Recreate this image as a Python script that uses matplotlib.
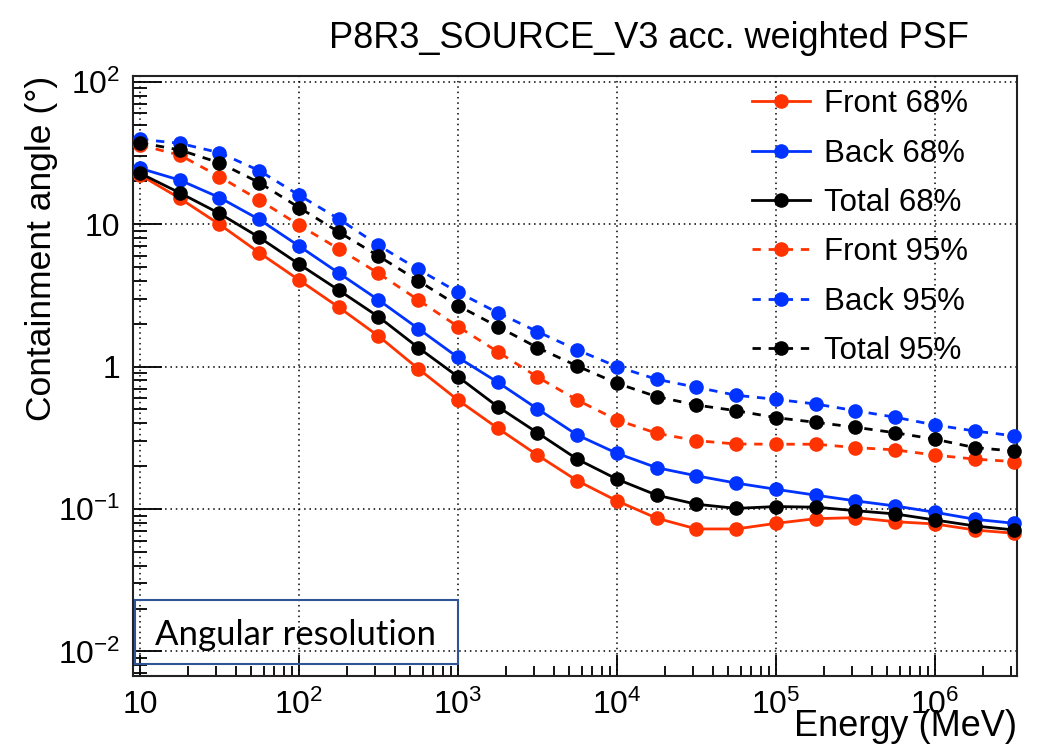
import matplotlib
matplotlib.use("Agg")
import matplotlib.pyplot as plt
from matplotlib.ticker import FixedLocator, FixedFormatter, LogLocator, NullFormatter
from matplotlib.patches import Rectangle

# ---------------- data ----------------
energy = [10, 17.8, 31.6, 56.2, 100, 178, 316, 562, 1000, 1780, 3160, 5620,
          1e4, 1.78e4, 3.16e4, 5.62e4, 1e5, 1.78e5, 3.16e5, 5.62e5, 1e6, 1.78e6, 3.16e6]

front68 = [22.2, 15.2, 9.98, 6.31, 4.06, 2.61, 1.64, 0.967, 0.582, 0.369, 0.239, 0.158,
           0.114, 0.0861, 0.0724, 0.0724, 0.0793, 0.0855, 0.0869, 0.0814, 0.0785, 0.0712, 0.0675]
back68 = [24.7, 20.4, 15.4, 10.8, 7.03, 4.54, 2.94, 1.85, 1.16, 0.776, 0.505, 0.331,
          0.246, 0.195, 0.171, 0.152, 0.1375, 0.125, 0.114, 0.105, 0.0948, 0.0847, 0.0793]
total68 = [22.8, 16.6, 11.9, 8.09, 5.25, 3.44, 2.24, 1.36, 0.849, 0.523, 0.343, 0.224,
           0.162, 0.125, 0.108, 0.101, 0.104, 0.103, 0.0973, 0.0923, 0.0837, 0.076, 0.0712]
front95 = [36.0, 30.6, 21.6, 14.8, 9.87, 6.70, 4.52, 2.94, 1.91, 1.27, 0.845, 0.582,
           0.422, 0.340, 0.302, 0.286, 0.285, 0.285, 0.270, 0.260, 0.239, 0.224, 0.215]
back95 = [39.5, 37.0, 31.8, 23.8, 16.0, 10.9, 7.11, 4.82, 3.33, 2.39, 1.76, 1.31,
          1.00, 0.814, 0.716, 0.629, 0.589, 0.546, 0.490, 0.441, 0.389, 0.353, 0.326]
total95 = [37.4, 33.2, 27.0, 19.6, 13.1, 8.81, 5.98, 4.01, 2.68, 1.91, 1.36, 1.01,
           0.763, 0.615, 0.537, 0.490, 0.438, 0.406, 0.375, 0.343, 0.309, 0.270, 0.255]

series_labels = ["Front 68%", "Back 68%", "Total 68%", "Front 95%", "Back 95%", "Total 95%"]

xtick_values = [10, 1e2, 1e3, 1e4, 1e5, 1e6]
xtick_labels = ["10", "$10^{2}$", "$10^{3}$", "$10^{4}$", "$10^{5}$", "$10^{6}$"]
ytick_values = [1e-2, 1e-1, 1, 10, 1e2]
ytick_labels = ["$10^{-2}$", "$10^{-1}$", "1", "10", "$10^{2}$"]

title_text = "P8R3_SOURCE_V3 acc. weighted PSF"
xlabel_text = "Energy (MeV)"
ylabel_text = "Containment angle (°)"
box_text = "Angular resolution"

# ---------------- style ----------------
plt.rcParams['font.family'] = ['Liberation Sans', 'DejaVu Sans']
plt.rcParams['mathtext.fontset'] = 'custom'
plt.rcParams['mathtext.rm'] = 'Liberation Sans'
plt.rcParams['mathtext.it'] = 'Liberation Sans:italic'
plt.rcParams['mathtext.bf'] = 'Liberation Sans:bold'

RED = '#ff3300'
BLUE = '#0033ff'
BLACK = '#000000'

W, H = 1041, 753
fig = plt.figure(figsize=(W / 100, H / 100), dpi=100)
ax = fig.add_axes([133 / W, 1 - 676 / H, (1017 - 133) / W, (676 - 76) / H])

dash = (0, (3.0, 2.8))
styles = [
    (front68, RED, '-'),
    (back68, BLUE, '-'),
    (total68, BLACK, '-'),
    (front95, RED, dash),
    (back95, BLUE, dash),
    (total95, BLACK, dash),
]
handles = []
for (vals, col, ls), lab in zip(styles, series_labels):
    h, = ax.plot(energy, vals, color=col, linestyle=ls, linewidth=2.0,
                 marker='o', markersize=9.5, markerfacecolor=col,
                 markeredgecolor=col, label=lab, clip_on=False, zorder=3)
    handles.append(h)

ax.set_xscale('log')
ax.set_yscale('log')
ax.set_xlim(10 ** 0.956, 10 ** 6.516)
ax.set_ylim(10 ** -2.173, 10 ** 2.041)

ax.xaxis.set_major_locator(FixedLocator(xtick_values))
ax.xaxis.set_major_formatter(FixedFormatter(xtick_labels))
ax.yaxis.set_major_locator(FixedLocator(ytick_values))
ax.yaxis.set_major_formatter(FixedFormatter(ytick_labels))
ax.xaxis.set_minor_locator(LogLocator(base=10, subs=range(2, 10), numticks=20))
ax.yaxis.set_minor_locator(LogLocator(base=10, subs=range(2, 10), numticks=20))
ax.xaxis.set_minor_formatter(NullFormatter())
ax.yaxis.set_minor_formatter(NullFormatter())

ax.tick_params(axis='both', which='both', direction='in', top=False, right=False,
               color='black', width=1.3)
ax.tick_params(axis='x', which='major', length=15, pad=10, labelsize=23)
ax.tick_params(axis='x', which='minor', length=7.5)
ax.tick_params(axis='y', which='major', length=21, pad=9, labelsize=23)
ax.tick_params(axis='y', which='minor', length=10)

ax.grid(True, which='major', color='black', linestyle=(0, (1, 2.5)), linewidth=1.1)
ax.set_axisbelow(True)
for sp in ax.spines.values():
    sp.set_linewidth(1.5)
    sp.set_color('#222222')

ax.set_xlabel(xlabel_text, fontsize=26, loc='right')
ax.xaxis.set_label_coords(1.0, -0.055)
ax.set_ylabel(ylabel_text, fontsize=25.5, loc='top')
ax.yaxis.set_label_coords(-0.085, 1.0)

fig.text(649 / W, 1 - 48 / H, title_text, fontsize=26, ha='center', va='baseline')

leg = ax.legend(handles=handles, loc='upper left', bbox_to_anchor=(0.700, 0.978),
                frameon=False, fontsize=22.5, handlelength=1.86, handletextpad=0.45,
                labelspacing=0.62, borderpad=0, borderaxespad=0, numpoints=1)

# annotation box
fig.patches.append(Rectangle((135 / W, 1 - 664 / H), (458 - 135) / W, (664 - 600) / H,
                             transform=fig.transFigure, fill=False,
                             edgecolor='#2f5597', linewidth=1.5, zorder=5))
fig.text(155 / W, 1 - 645 / H, box_text, fontsize=25, family=['Lato', 'DejaVu Sans'],
         ha='left', va='baseline')

fig.savefig('out.png', dpi=100)
